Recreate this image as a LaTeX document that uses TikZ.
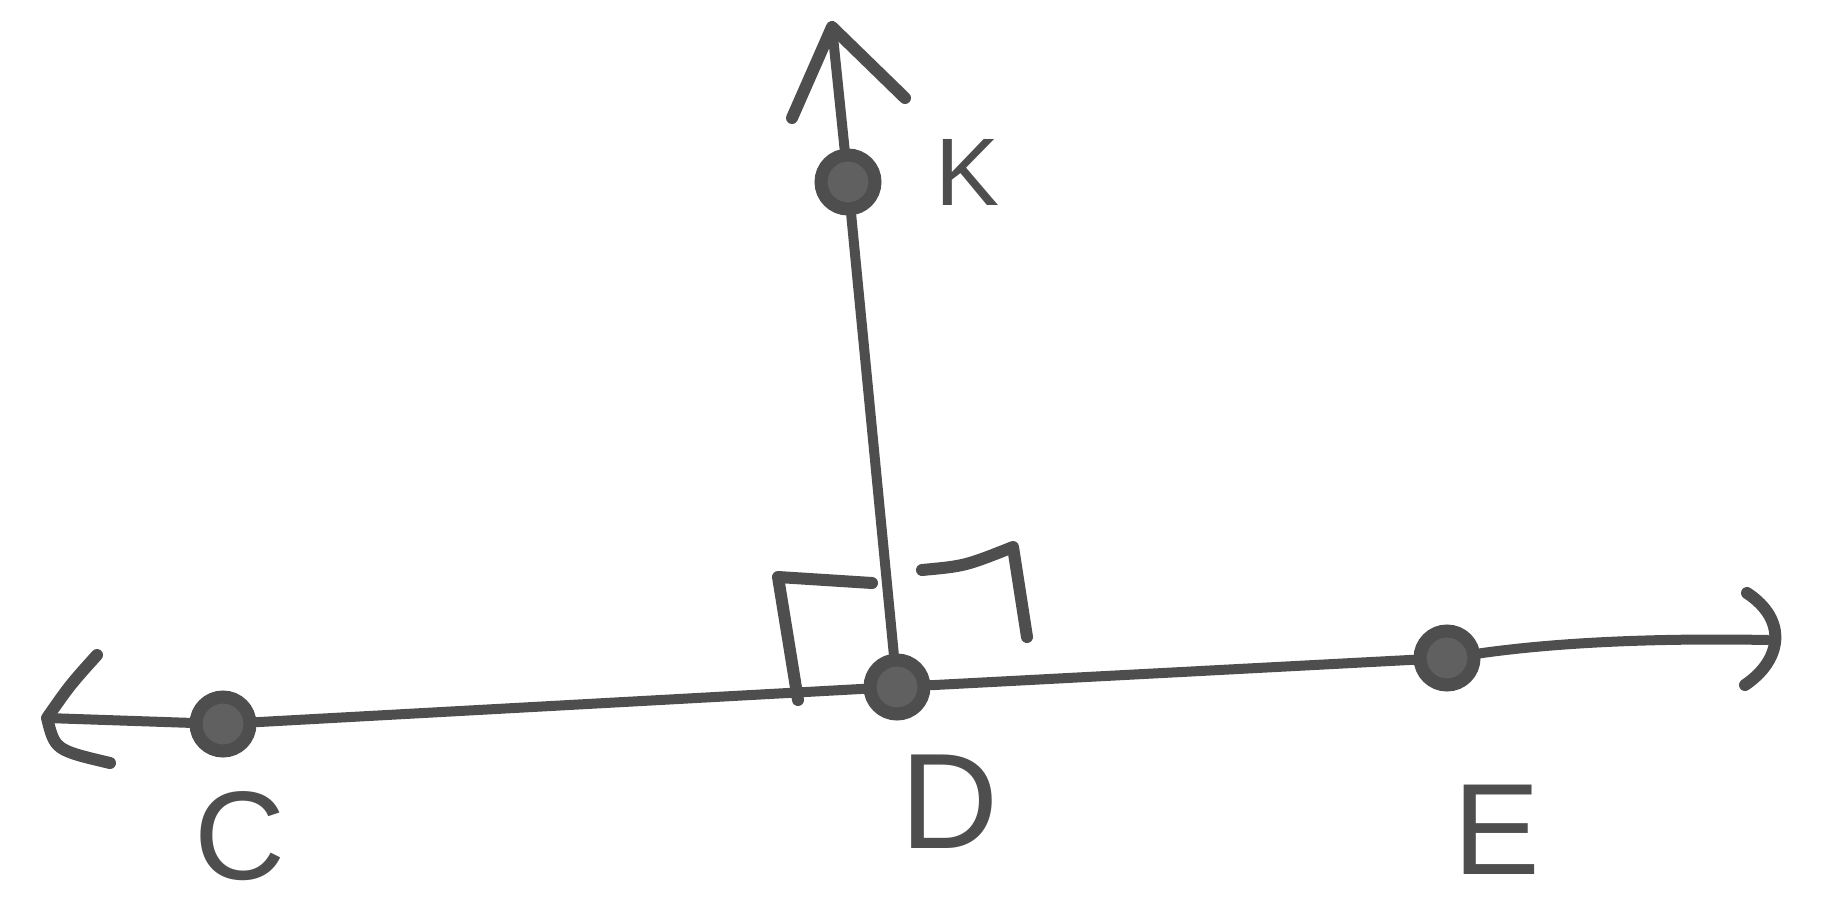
\documentclass[tikz,border=0pt]{standalone}
\usepackage{fontspec}
\setmainfont{Liberation Sans}
\definecolor{inkc}{RGB}{78,78,78}
\begin{document}
\begin{tikzpicture}[x=1pt,y=-1pt,
  ink/.style={draw=inkc, line width=10pt, line cap=round, line join=round},
  barb/.style={draw=inkc, line width=12pt, line cap=round, line join=round},
  dot/.style={circle, draw=inkc, fill=inkc!90, line width=13pt, minimum size=54pt, inner sep=0pt},
  lbl/.style={text=inkc, inner sep=0pt}]
\useasboundingbox (0,0) rectangle (1830,907);
% points
\node[dot] (C) at (223,724) {};
\node[dot] (D) at (897,687) {};
\node[dot] (E) at (1447,658) {};
\node[dot] (K) at (848,182) {};
\coordinate (ltip) at (47,718);
\coordinate (rtip) at (1768,640);
\coordinate (ktip) at (832,27);
% lines
\draw[ink] (ltip) -- (C);
\draw[ink] (C) -- (D);
\draw[ink] (D) -- (E);
\draw[ink] (E) .. controls (1560,642) and (1660,638) .. (rtip);
\draw[ink] (D) -- (K);
\draw[ink] (K) -- (ktip);
% arrow heads
\draw[barb] (97,655) .. controls (70,685) .. (ltip) .. controls (55,750) .. (110,763);
\draw[barb] (1747,593) .. controls (1788,620) and (1782,660) .. (1745,685);
\draw[barb] (792,118) -- (ktip) -- (905,98);
% right angle marks
\draw[barb] (798,700) -- (778,577) -- (872,583);
\draw[barb] (922,570) .. controls (965,566) .. (1013,547) -- (1027,637);
% labels
\node[lbl, font=\fontsize{96}{96}\selectfont] (Kl) at (968,172) {K};
\node[lbl, font=\fontsize{126}{126}\selectfont] (Cl) at (240,836) {C};
\node[lbl, font=\fontsize{136}{136}\selectfont] (Dl) at (950,802) {D};
\node[lbl, font=\fontsize{130}{130}\selectfont] (El) at (1497,830) {E};
\end{tikzpicture}
\end{document}
